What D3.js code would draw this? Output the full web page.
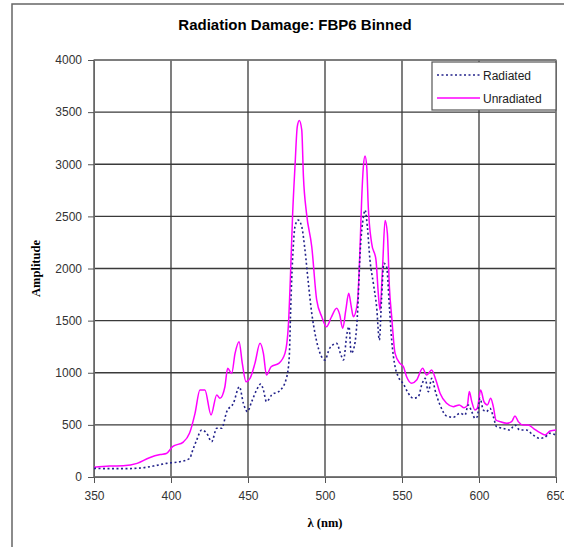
<!DOCTYPE html>
<html>
<head>
<meta charset="utf-8">
<script src="https://cdn.jsdelivr.net/npm/d3@7"></script>
<style>
  body { margin: 0; background: #fff; }
  .tick text { font-family: "Liberation Sans", Arial, sans-serif; font-size: 12px; fill: #333; }
</style>
</head>
<body>
<div id="chart"></div>
<script>
// wavelength (nm) / amplitude
const wavelengthU = [350, 360, 369, 378, 386, 393, 397, 401, 408, 412, 415.6, 418.8, 422, 426, 429.7, 431.8,
  435, 436.8, 439.4, 441.6, 444.2, 446.3, 448.7, 451.3, 454.5, 457.8, 460, 462, 465, 470, 474, 476.2, 477.5,
  479, 480.5, 482, 483.3, 484.9, 486, 488, 491.4, 494.6, 497.9, 501, 504, 507.6, 509.5, 511.5, 513.5, 515.4,
  517, 518.4, 521, 522.7, 523.8, 524.9, 526, 527.1, 528.1, 530.3, 533.1, 534.6, 535.7, 537.4, 539, 540.5,
  541.8, 543.3, 545.5, 548.7, 550.9, 553, 556.3, 559.5, 563.4, 566, 569.2, 572, 574.7, 579, 583.3, 587.2,
  590.3, 592.4, 593.7, 595.3, 597.4, 598.9, 601.1, 603.2, 605.4, 607.6, 609.3, 611, 613.6, 618, 621.2, 623.4,
  625.5, 628.8, 632, 635.3, 639.6, 642.9, 646.1, 650];
const unradiated = [93, 105, 108, 131, 185, 215, 225, 291, 335, 419, 611, 835, 835, 595, 787, 755,
  866, 1042, 994, 1186, 1298, 1090, 914, 946, 1090, 1282, 1186, 978, 1058, 1090, 1186, 1450, 1900,
  2529, 2976, 3360, 3420, 3330, 2881, 2529, 2209, 1698, 1538, 1442, 1530, 1618, 1560, 1426, 1600, 1762,
  1640, 1538, 1666, 2177, 2657, 2976, 3080, 2976, 2593, 2241, 2082, 1762, 1602, 2017, 2460, 2337,
  1826, 1538, 1186, 1090, 1058, 962, 899, 930, 1042, 978, 1026, 930, 803, 707, 675, 691,
  665, 685, 819, 723, 643, 659, 835, 723, 691, 755, 675, 547, 531, 515, 531, 585,
  531, 499, 499, 467, 425, 403, 441, 451];

const wavelengthR = [350, 360, 370, 380, 388.5, 397, 405.8, 412.3, 413.4, 416.7, 419.9, 423.2, 426.4, 429.7,
  432.9, 436.2, 440.5, 444.4, 447, 449.6, 452.4, 455.6, 458.3, 460, 462, 465.4, 470.8, 475, 476.8, 477.7,
  478.4, 479.4, 480.5, 482.6, 484.9, 487, 489.2, 491.4, 493.5, 496.8, 500, 503, 507.6, 510, 512, 514.3,
  515.6, 517, 519, 521, 522.9, 525, 526, 527.5, 529.2, 531.4, 533.5, 535.3, 536.7, 538.2, 540, 541.8,
  543.3, 545.5, 547.6, 551, 554.1, 557.4, 560.6, 562.8, 565, 567.1, 569.3, 572, 574.7, 579, 583.3, 587.7,
  590.9, 593, 595.3, 597.4, 598.9, 600.6, 602.8, 604.9, 607.1, 609.3, 611.4, 615.7, 620, 623.2, 626.5,
  630.8, 635.1, 639.4, 642.7, 645.9, 650];
const radiated = [83, 80, 80, 86, 105, 131, 147, 179, 227, 355, 451, 419, 339, 467,
  467, 627, 707, 866, 707, 627, 723, 835, 892, 835, 723, 787, 830, 950, 1154, 1600,
  1900, 2209, 2401, 2465, 2401, 2177, 1858, 1570, 1378, 1186, 1122, 1234, 1282, 1186, 1122, 1378,
  1442, 1186, 1250, 1538, 2177, 2497, 2561, 2401, 2082, 1858, 1634, 1314, 1698, 2049, 2017, 1634,
  1314, 1058, 962, 890, 803, 755, 771, 882, 946, 819, 946, 803, 691, 585, 573, 611,
  595, 691, 627, 563, 579, 755, 643, 627, 659, 579, 483, 467, 451, 499, 451,
  451, 403, 371, 381, 419, 403];

const xTicks = [350, 400, 450, 500, 550, 600, 650];
const yTicks = [0, 500, 1000, 1500, 2000, 2500, 3000, 3500, 4000];
const seriesNames = ['Radiated', 'Unradiated'];

const W = 564, H = 547;
const margin = { left: 94, right: 8, top: 60, bottom: 70 };
const innerW = W - margin.left - margin.right;
const innerH = H - margin.top - margin.bottom;

const svg = d3.select('#chart').append('svg')
  .attr('width', W)
  .attr('height', H);

// outer frame
svg.append('rect')
  .attr('x', 12).attr('y', 4)
  .attr('width', 600).attr('height', 600)
  .attr('fill', 'none')
  .attr('stroke', '#666')
  .attr('stroke-width', 1.5);

svg.append('text')
  .attr('x', 295).attr('y', 30)
  .attr('text-anchor', 'middle')
  .style('font-family', '"Liberation Sans", Arial, sans-serif')
  .style('font-size', '15px')
  .style('font-weight', 'bold')
  .text('Radiation Damage: FBP6 Binned');

const g = svg.append('g')
  .attr('transform', `translate(${margin.left},${margin.top})`);

const x = d3.scaleLinear().domain([350, 650]).range([0, innerW]);
const y = d3.scaleLinear().domain([0, 4000]).range([innerH, 0]);

// grid
g.append('g').selectAll('line')
  .data(yTicks)
  .enter().append('line')
  .attr('x1', 0).attr('x2', innerW)
  .attr('y1', d => y(d)).attr('y2', d => y(d))
  .attr('stroke', '#3a3a3a')
  .attr('stroke-width', 1.3);

g.append('g').selectAll('line')
  .data(xTicks)
  .enter().append('line')
  .attr('y1', 0).attr('y2', innerH)
  .attr('x1', d => x(d)).attr('x2', d => x(d))
  .attr('stroke', '#3a3a3a')
  .attr('stroke-width', 1.3);

g.append('rect')
  .attr('width', innerW).attr('height', innerH)
  .attr('fill', 'none')
  .attr('stroke', '#888')
  .attr('stroke-width', 1.3);

const xAxis = g.append('g')
  .attr('transform', `translate(0,${innerH})`)
  .call(d3.axisBottom(x).tickValues(xTicks).tickFormat(d3.format('d')).tickSize(6).tickPadding(8));
const yAxis = g.append('g')
  .call(d3.axisLeft(y).tickValues(yTicks).tickFormat(d3.format('d')).tickSize(6).tickPadding(6));
[xAxis, yAxis].forEach(a => {
  a.select('.domain').attr('stroke', '#666');
  a.selectAll('.tick line').attr('stroke', '#555');
});

// axis titles
svg.append('text')
  .attr('transform', `translate(40,${margin.top + innerH / 2}) rotate(-90)`)
  .attr('text-anchor', 'middle')
  .style('font-family', '"Liberation Serif", "Times New Roman", serif')
  .style('font-size', '12.5px')
  .style('font-weight', 'bold')
  .text('Amplitude');

svg.append('text')
  .attr('x', margin.left + x(500)).attr('y', 527)
  .attr('text-anchor', 'middle')
  .style('font-family', '"Liberation Serif", "Times New Roman", serif')
  .style('font-size', '12.5px')
  .style('font-weight', 'bold')
  .text('λ (nm)');

const line = d3.line()
  .x(d => x(d[0]))
  .y(d => y(d[1]))
  .curve(d3.curveMonotoneX);

g.append('path')
  .datum(d3.zip(wavelengthU, unradiated))
  .attr('fill', 'none')
  .attr('stroke', '#ff00ff')
  .attr('stroke-width', 1.5)
  .attr('d', line);

g.append('path')
  .datum(d3.zip(wavelengthR, radiated))
  .attr('fill', 'none')
  .attr('stroke', '#22228a')
  .attr('stroke-width', 1.6)
  .attr('stroke-dasharray', '2,2.5')
  .attr('d', line);

// legend
const legend = svg.append('g').attr('transform', 'translate(432,62)');
legend.append('rect')
  .attr('width', 124).attr('height', 48)
  .attr('fill', '#fff')
  .attr('stroke', '#555')
  .attr('stroke-width', 1.2);
const styles = [
  { stroke: '#22228a', dash: '2,2.5' },
  { stroke: '#ff00ff', dash: null }
];
seriesNames.forEach((name, i) => {
  const yy = 13 + i * 23;
  legend.append('line')
    .attr('x1', 5).attr('x2', 48)
    .attr('y1', yy).attr('y2', yy)
    .attr('stroke', styles[i].stroke)
    .attr('stroke-width', 1.5)
    .attr('stroke-dasharray', styles[i].dash);
  legend.append('text')
    .attr('x', 51).attr('y', yy + 4.5)
    .style('font-family', '"Liberation Sans", Arial, sans-serif')
    .style('font-size', '12px')
    .style('fill', '#222')
    .text(name);
});
</script>
</body>
</html>
